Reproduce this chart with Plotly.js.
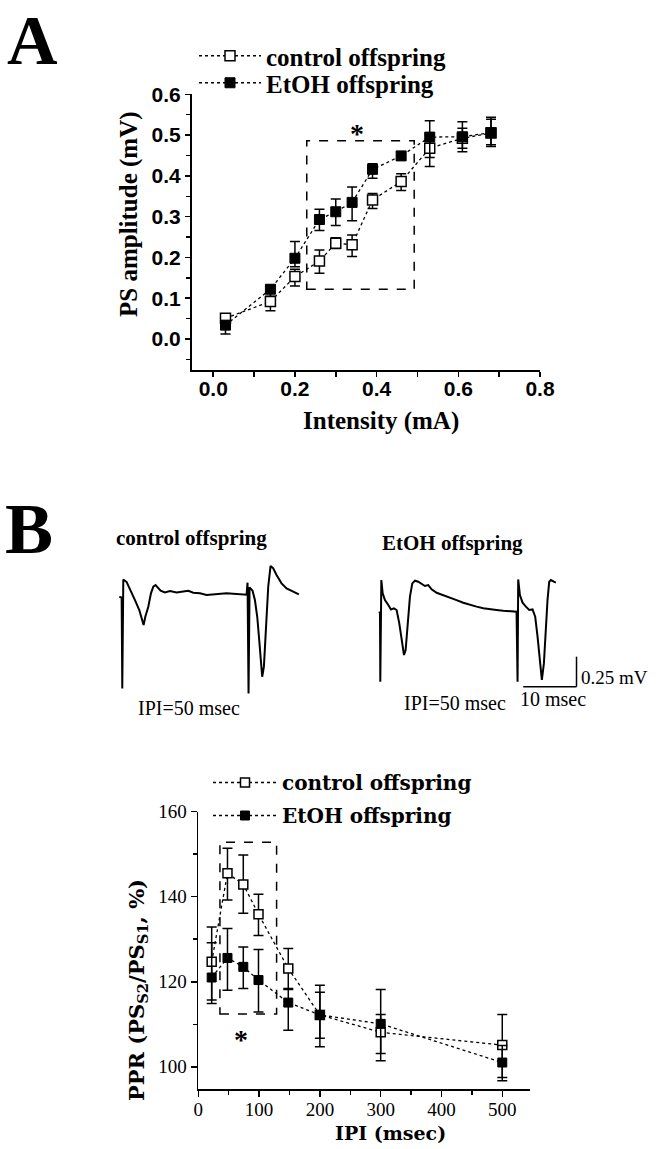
<!DOCTYPE html>
<html>
<head>
<meta charset="utf-8">
<script src="https://cdn.plot.ly/plotly-3.0.0.min.js"></script>
<style>html,body{margin:0;padding:0;background:#fff}#chart{width:664px;height:1149px}</style>
</head>
<body>
<div id="chart"></div>
<script>
// ---------------- DATA ----------------
// Panel A: input/output curve
const intensityMA = [0.03, 0.14, 0.20, 0.26, 0.30, 0.34, 0.39, 0.46, 0.53, 0.61, 0.68];
const ctrlPS      = [0.051, 0.092, 0.153, 0.191, 0.235, 0.231, 0.341, 0.386, 0.468, 0.492, 0.505];
const ctrlPSHigh  = [0.060, 0.112, 0.171, 0.218, 0.248, 0.255, 0.357, 0.405, 0.500, 0.517, 0.539];
const ctrlPSLow   = [0.042, 0.069, 0.130, 0.161, 0.222, 0.202, 0.320, 0.364, 0.423, 0.468, 0.476];
const etohPS      = [0.034, 0.122, 0.198, 0.293, 0.312, 0.335, 0.416, 0.449, 0.495, 0.496, 0.506];
const etohPSHigh  = [0.045, 0.132, 0.239, 0.318, 0.343, 0.373, 0.430, 0.459, 0.535, 0.533, 0.544];
const etohPSLow   = [0.012, 0.105, 0.177, 0.266, 0.278, 0.290, 0.394, 0.439, 0.445, 0.459, 0.472];
const sigBoxA = {x: [0.229, 0.492], y: [0.122, 0.486]};
const starA = {x: 0.351, y: 0.512};

// Panel B: paired-pulse ratio
const ipiMs       = [22, 48, 74, 99, 148, 200, 300, 500];
const ctrlPPR     = [124.7, 145.5, 142.9, 135.9, 123.1, 112.2, 108.1, 105.1];
const ctrlPPRHigh = [132.9, 151.4, 149.8, 140.6, 127.8, 117.5, 112.3, 112.3];
const ctrlPPRLow  = [115.7, 139.2, 136.1, 130.9, 118.4, 106.7, 101.4, 97.5];
const etohPPR     = [121.0, 125.6, 123.5, 120.4, 115.1, 112.2, 110.1, 101.0];
const etohPPRHigh = [129.2, 132.5, 128.2, 127.6, 118.2, 119.2, 118.2, 105.0];
const etohPPRLow  = [114.9, 118.0, 118.4, 112.9, 108.6, 104.7, 103.1, 96.7];
const sigBoxB = {x: [35.6, 128.8], y: [112.4, 152.8]};
const starB = {x: 69.6, y: 106.7};

// Panel B: example field potential traces (time in ms, voltage in mV)
const ctrlTraceT = [0,0.44,0.56,0.75,1.38,2.13,2.94,3.75,4.31,4.56,4.88,5.44,5.94,6.38,6.81,7.31,7.75,8.56,9.5,10.75,12.0,12.94,13.88,15.13,16.38,17.63,18.88,20.13,21.38,22.63,23.88,24.06,24.25,24.44,25.0,25.44,25.88,26.25,26.56,26.81,27.13,27.5,27.94,28.38,28.88,29.5,30.44,31.38,32.31,33.25,33.69];
const ctrlTraceV = [0,-0.008,-0.764,0.144,0.122,0.056,-0.028,-0.111,-0.194,-0.236,-0.167,-0.083,0.028,0.083,0.097,0.069,0.05,0.036,0.047,0.036,0.042,0.05,0.033,0.028,0.014,0.019,0.025,0.028,0.025,0.022,0.017,0.117,-0.806,0.078,0.05,-0.028,-0.167,-0.361,-0.583,-0.667,-0.583,-0.278,0.083,0.256,0.236,0.181,0.111,0.069,0.05,0.028,0.019];
const etohTraceT = [0,0.13,0.19,0.38,0.63,1.06,1.69,2.19,2.75,3.25,3.75,4.19,4.63,4.94,5.31,5.75,6.19,6.69,7.31,7.94,8.56,9.19,9.81,10.75,12.0,13.25,14.5,15.75,17.0,18.25,19.5,20.75,22.0,23.25,24.5,25.75,25.94,26.06,26.38,26.88,27.5,28.13,28.75,29.25,29.69,30.13,30.5,30.88,31.25,31.56,31.88,32.19,32.75,33.13];
const etohTraceV = [0,-0.014,-0.583,0.264,0.153,0.097,0.056,0.019,0.028,0.014,-0.097,-0.236,-0.361,-0.319,-0.125,0.125,0.236,0.258,0.25,0.231,0.214,0.222,0.186,0.158,0.139,0.117,0.097,0.075,0.056,0.042,0.028,0.019,0.014,0.008,0.006,0,-0.583,0.269,0.139,0.075,0.042,0.014,0.019,-0.042,-0.208,-0.431,-0.569,-0.431,-0.125,0.097,0.25,0.264,0.25,0.242];
const scaleBarMs = 10, scaleBarMv = 0.25;

// ---------------- LAYOUT HELPERS ----------------
const W = 664, H = 1149;
const px = v => v / W;
const py = v => 1 - v / H;
const PX_PER_MS = 5.33, PX_PER_MV = 120;
function traceAxes(ox, oy, left, right, top, bottom) {
  const base = {showline:false, showgrid:false, zeroline:false, showticklabels:false, ticks:'', fixedrange:true};
  return {
    x: Object.assign({}, base, {domain:[px(left), px(right)], range:[(left-ox)/PX_PER_MS, (right-ox)/PX_PER_MS]}),
    y: Object.assign({}, base, {domain:[py(bottom), py(top)], range:[(oy-bottom)/PX_PER_MV, (oy-top)/PX_PER_MV]})
  };
}
const up = (hi, y) => hi.map((h, i) => +(h - y[i]).toFixed(4));
const dn = (lo, y) => lo.map((l, i) => +(y[i] - l).toFixed(4));

const dotLine = {dash:'dot', width:1.3, color:'black'};
const errStyle = {color:'black', thickness:1.5, width:5};

const traces = [
  {x:intensityMA, y:ctrlPS, name:'control offspring', mode:'lines+markers', xaxis:'x', yaxis:'y',
   legend:'legend', line:dotLine,
   marker:{symbol:'square', size:10, color:'white', line:{color:'black', width:1.5}},
   error_y:Object.assign({type:'data', symmetric:false, array:up(ctrlPSHigh, ctrlPS), arrayminus:dn(ctrlPSLow, ctrlPS)}, errStyle)},
  {x:intensityMA, y:etohPS, name:'EtOH offspring', mode:'lines+markers', xaxis:'x', yaxis:'y',
   legend:'legend3', line:dotLine,
   marker:{symbol:'square', size:10, color:'black', line:{color:'black', width:1}},
   error_y:Object.assign({type:'data', symmetric:false, array:up(etohPSHigh, etohPS), arrayminus:dn(etohPSLow, etohPS)}, errStyle)},
  {x:ipiMs, y:ctrlPPR, name:'control offspring', mode:'lines+markers', xaxis:'x2', yaxis:'y2',
   legend:'legend2', line:dotLine,
   marker:{symbol:'square', size:9, color:'white', line:{color:'black', width:1.5}},
   error_y:Object.assign({type:'data', symmetric:false, array:up(ctrlPPRHigh, ctrlPPR), arrayminus:dn(ctrlPPRLow, ctrlPPR)}, errStyle)},
  {x:ipiMs, y:etohPPR, name:'EtOH offspring', mode:'lines+markers', xaxis:'x2', yaxis:'y2',
   legend:'legend4', line:dotLine,
   marker:{symbol:'square', size:9, color:'black', line:{color:'black', width:1}},
   error_y:Object.assign({type:'data', symmetric:false, array:up(etohPPRHigh, etohPPR), arrayminus:dn(etohPPRLow, etohPPR)}, errStyle)},
  {x:ctrlTraceT, y:ctrlTraceV, mode:'lines', xaxis:'x3', yaxis:'y3', showlegend:false, line:{color:'black', width:2}},
  {x:etohTraceT, y:etohTraceV, mode:'lines', xaxis:'x4', yaxis:'y4', showlegend:false, line:{color:'black', width:2}}
];

const taC = traceAxes(119.3, 596.7, 110, 310, 565, 705);
const taE = traceAxes(379.3, 611.7, 370, 600, 565, 705);

const axA = {showline:true, linecolor:'black', linewidth:2, ticks:'outside', ticklen:5, tickwidth:1.5, tickcolor:'black',
  showgrid:false, zeroline:false, fixedrange:true,
  tickfont:{family:'Liberation Sans, Arial, sans-serif', size:21, color:'black', weight:'bold'}};
const axB = {showline:true, linecolor:'black', linewidth:1.8, ticks:'outside', ticklen:6, tickwidth:1.5, tickcolor:'black',
  showgrid:false, zeroline:false, fixedrange:true,
  tickfont:{family:'Liberation Serif, Times New Roman, serif', size:19, color:'black'}};

const serifB = {family:'Liberation Serif, Times New Roman, serif', color:'black', weight:'bold'};
const wideB = {family:'DejaVu Serif, serif', color:'black', weight:'bold'};
const serifN = {family:'Liberation Serif, Times New Roman, serif', color:'black'};

function legendAt(xPx, topPx, itemwidth, font) {
  return {x:px(xPx), xanchor:'left', y:py(topPx), yanchor:'top', bgcolor:'rgba(0,0,0,0)', borderwidth:0,
    itemwidth:itemwidth, font:font, itemclick:false, itemdoubleclick:false};
}
function note(text, xPx, yPx, font, extra) {
  return Object.assign({text:text, xref:'paper', yref:'paper', x:px(xPx), y:py(yPx), xanchor:'center', yanchor:'middle',
    showarrow:false, font:font}, extra || {});
}

const layout = {
  width:W, height:H, margin:{l:0, r:0, t:0, b:0}, paper_bgcolor:'white', plot_bgcolor:'rgba(0,0,0,0)',
  showlegend:true,
  xaxis:Object.assign({}, axA, {domain:[px(192), px(540)], range:[-0.052, 0.8], anchor:'y', tick0:0, dtick:0.2, tickformat:'.1f',
    ticklabelstandoff:-6,
    minor:{dtick:0.1, ticks:'outside', ticklen:5, tickwidth:1.5, tickcolor:'black'}}),
  yaxis:Object.assign({}, axA, {domain:[py(370), py(94.3)], range:[-0.076, 0.6], anchor:'x', tick0:0, dtick:0.1, tickformat:'.1f',
    minor:{dtick:0.05, ticks:'outside', ticklen:4, tickwidth:1.5, tickcolor:'black'}}),
  xaxis2:Object.assign({}, axB, {domain:[px(198.3), px(530)], range:[0, 545.6], anchor:'y2', tick0:0, dtick:100,
    ticklabelstandoff:-4,
    minor:{dtick:50, ticks:'outside', ticklen:4, tickwidth:1.5, tickcolor:'black'}}),
  yaxis2:Object.assign({}, axB, {domain:[py(1089.3), py(811.7)], range:[94.7, 160], anchor:'x2', tick0:0, dtick:20,
    minor:{dtick:10, ticks:'outside', ticklen:4, tickwidth:1.5, tickcolor:'black'}}),
  xaxis3:Object.assign(taC.x, {anchor:'y3'}), yaxis3:Object.assign(taC.y, {anchor:'x3'}),
  xaxis4:Object.assign(taE.x, {anchor:'y4'}), yaxis4:Object.assign(taE.y, {anchor:'x4'}),
  legend:legendAt(194, 33, 62, Object.assign({size:25}, serifB)),
  legend3:legendAt(194, 60, 62, Object.assign({size:25}, serifB)),
  legend2:legendAt(208, 763, 64, Object.assign({size:20}, wideB)),
  legend4:legendAt(208, 796, 64, Object.assign({size:20}, wideB)),
  shapes:[
    {type:'rect', xref:'x', yref:'y', x0:sigBoxA.x[0], x1:sigBoxA.x[1], y0:sigBoxA.y[0], y1:sigBoxA.y[1],
     line:{color:'black', width:1.5, dash:'dash'}},
    {type:'rect', xref:'x2', yref:'y2', x0:sigBoxB.x[0], x1:sigBoxB.x[1], y0:sigBoxB.y[0], y1:sigBoxB.y[1],
     line:{color:'black', width:1.5, dash:'dash'}},
    {type:'line', xref:'x4', yref:'y4', x0:27.0, x1:27.0 + scaleBarMs, y0:-0.625, y1:-0.625, line:{color:'black', width:1.5}},
    {type:'line', xref:'x4', yref:'y4', x0:27.0 + scaleBarMs, x1:27.0 + scaleBarMs, y0:-0.625, y1:-0.625 + scaleBarMv, line:{color:'black', width:1.5}}
  ],
  annotations:[
    note('A', 5, 0, Object.assign({size:70}, serifB), {xanchor:'left', yanchor:'top'}),
    note('B', 3, 529, Object.assign({size:72}, serifB), {xanchor:'left'}),
    note('PS amplitude (mV)', 129, 214, Object.assign({size:25}, serifB), {textangle:-90}),
    note('Intensity (mA)', 381, 421, Object.assign({size:25}, serifB)),
    {text:'*', xref:'x', yref:'y', x:starA.x, y:starA.y, xanchor:'center', yanchor:'middle', showarrow:false, yshift:-3, font:Object.assign({size:28}, serifB)},
    note('control offspring', 191, 538, Object.assign({size:21}, serifB)),
    note('EtOH offspring', 452, 543, Object.assign({size:21}, serifB)),
    note('IPI=50 msec', 189, 708, Object.assign({size:20}, serifN)),
    note('IPI=50 msec', 455, 703, Object.assign({size:20}, serifN)),
    note('10 msec', 553, 699, Object.assign({size:20}, serifN)),
    note('0.25 mV', 579, 677, Object.assign({size:19}, serifN), {xanchor:'left'}),
    note('PPR (PS<sub>S2</sub>/PS<sub>S1</sub>, %)', 137, 990, Object.assign({size:21}, wideB), {textangle:-90}),
    note('IPI (msec)', 390, 1133, Object.assign({size:19}, wideB)),
    {text:'*', xref:'x2', yref:'y2', x:starB.x, y:starB.y, xanchor:'center', yanchor:'middle', showarrow:false, yshift:-1, font:Object.assign({size:28}, serifB)}
  ]
};

Plotly.newPlot('chart', traces, layout, {staticPlot:true, displayModeBar:false});
</script>
</body>
</html>
